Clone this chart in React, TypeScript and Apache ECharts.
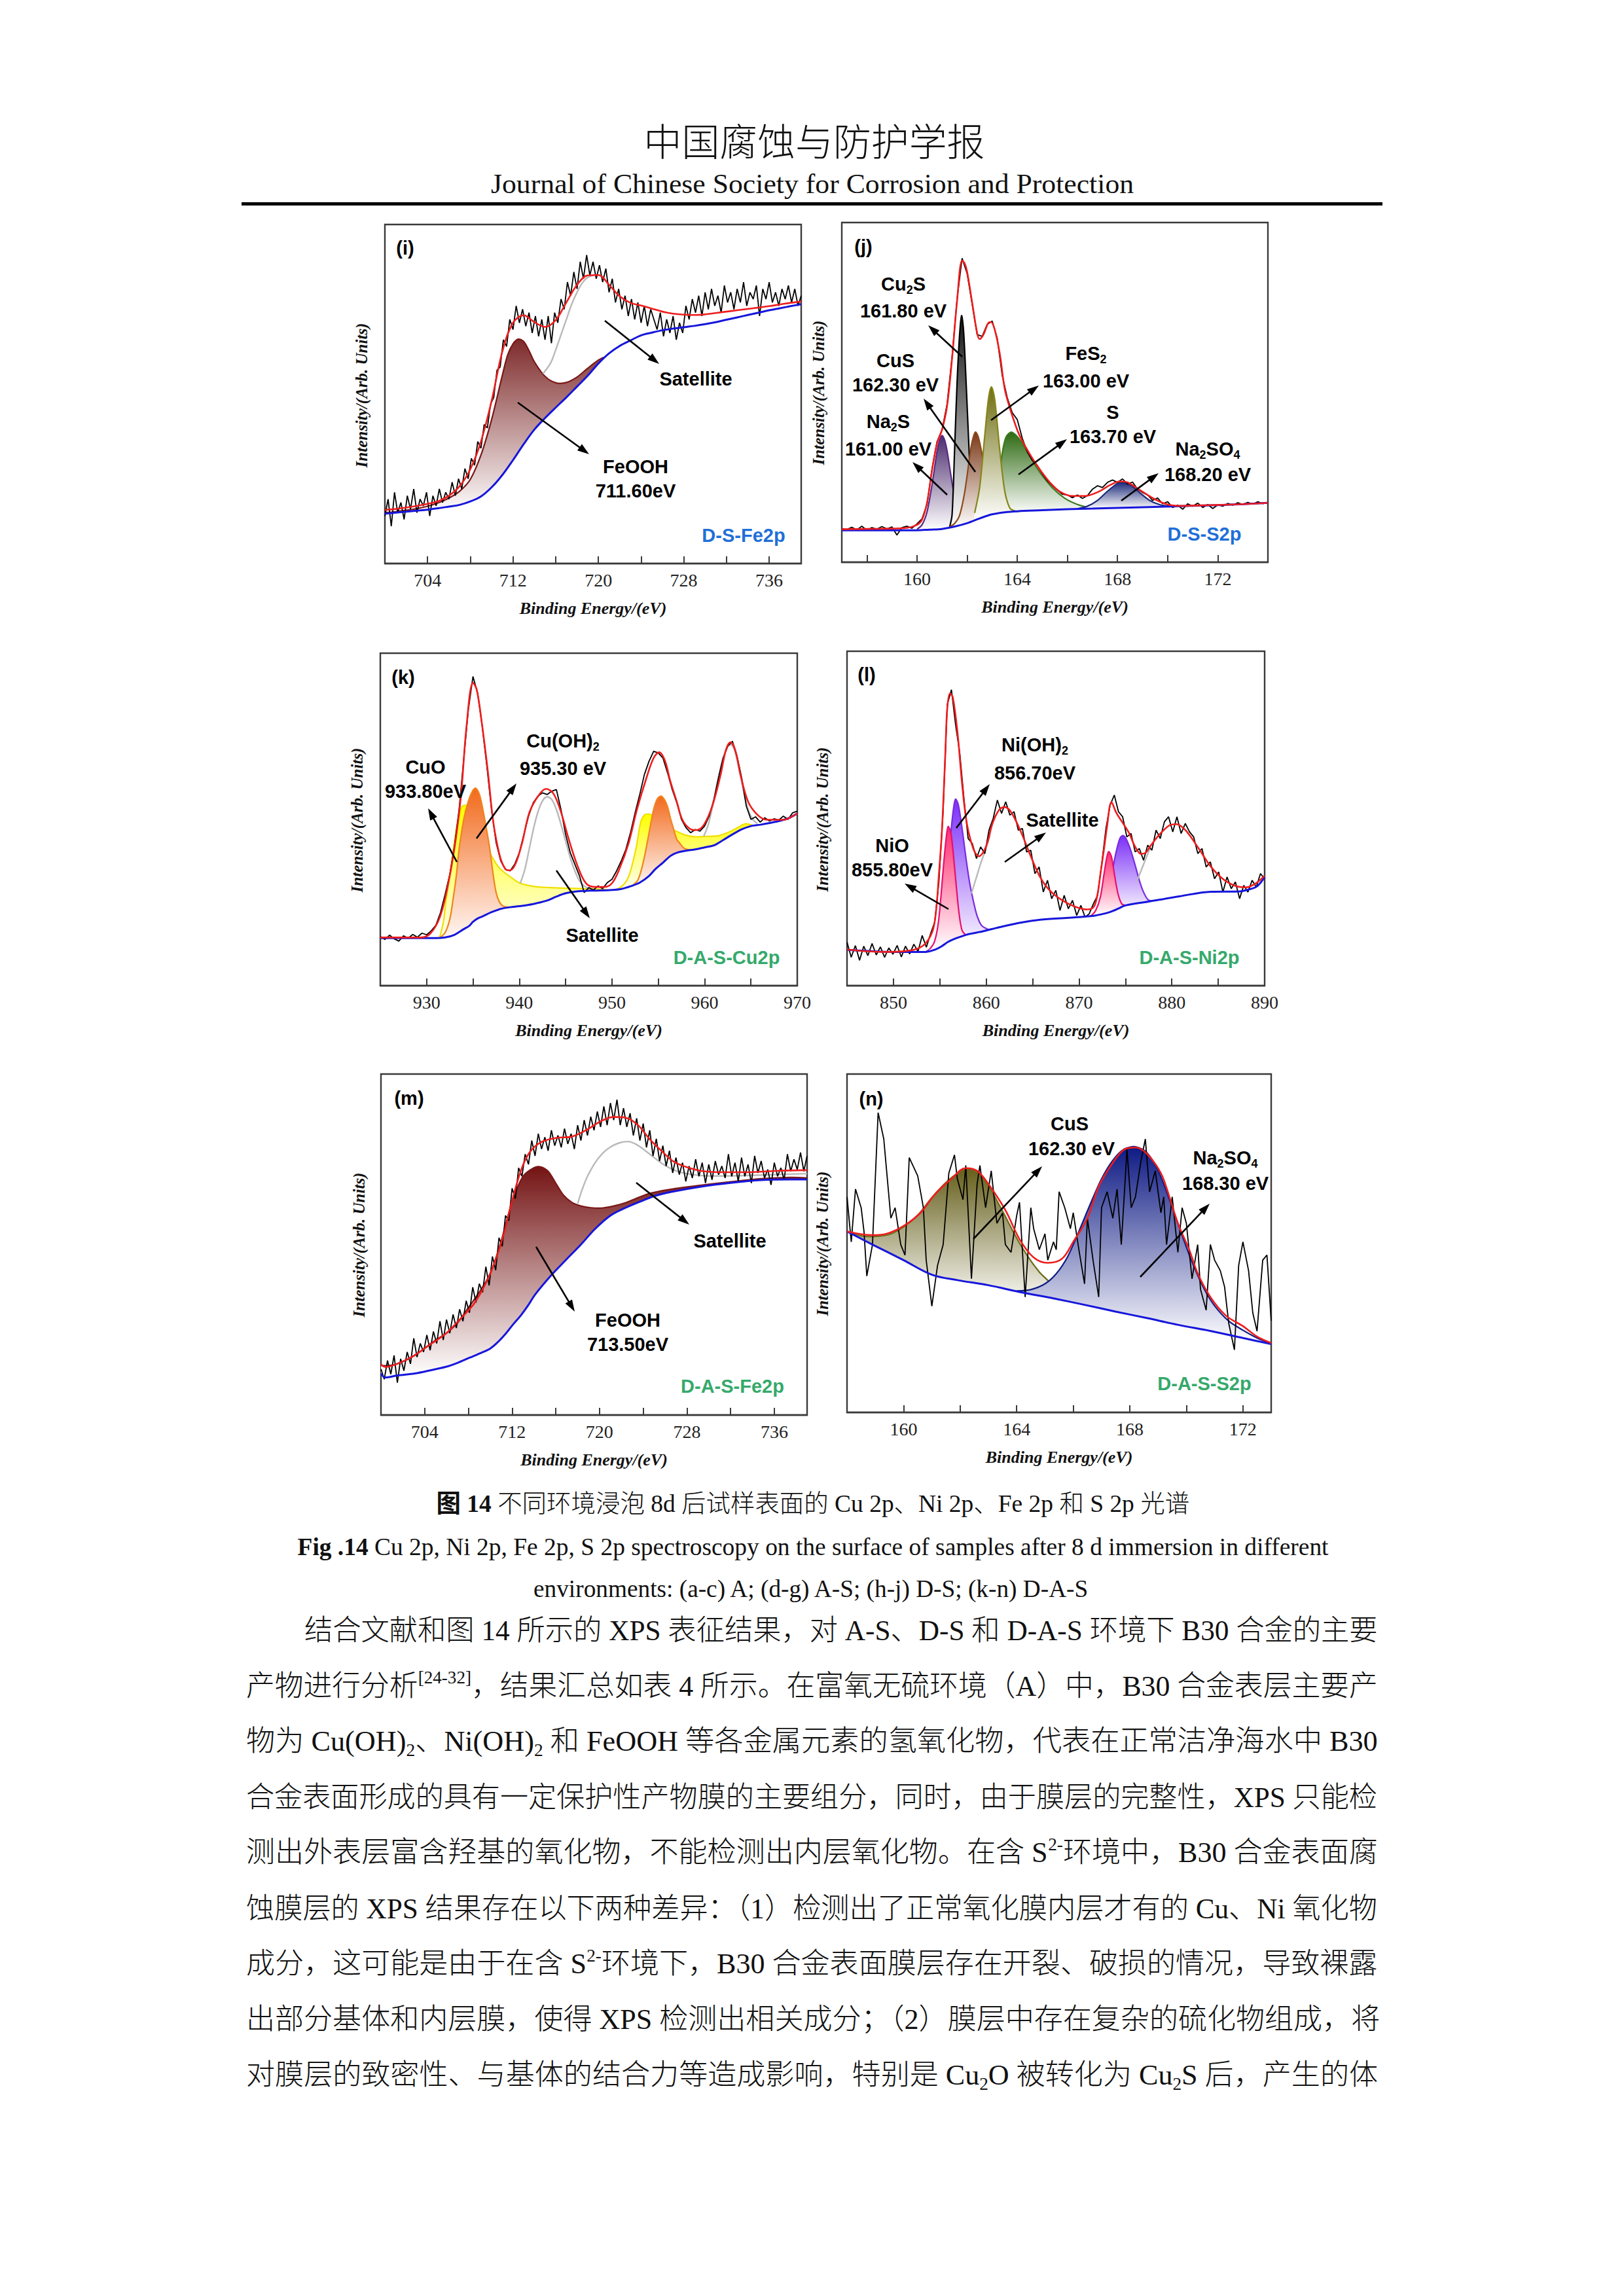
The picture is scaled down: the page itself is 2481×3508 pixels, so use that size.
import React, { useEffect, useRef } from 'react';
import * as echarts from 'echarts';

type Pt = [number, number];
type Band = [number, number, number]; // x, component top, background under it
type Seg = { t: string; s?: 'sub' | 'sup'; b?: boolean };

/* =========================== DATA =========================== */

/* ---- (i) D-S-Fe2p ---- */
const iTicks = [704, 708, 712, 716, 720, 724, 728, 732, 736];
const iLabels = [704, 712, 720, 728, 736];
const iRawStart = 700;
const iRawStep = 0.3;
const iRaw = [
  14, 19, 11, 21, 15, 18, 13, 20, 16, 22,
  15, 19, 17, 21, 14, 20, 17, 22, 18, 21,
  19, 24, 20, 25, 22, 28, 25, 31, 29, 36,
  34, 41, 40, 47, 49, 57, 58, 66, 64, 72,
  69, 76, 71, 75, 70, 74, 68, 73, 67, 72,
  66, 73, 65, 74, 71, 78, 75, 83, 79, 86,
  81, 89, 84, 91, 85, 89, 84, 88, 83, 87,
  80, 84, 77, 81, 75, 79, 73, 78, 72, 77,
  71, 76, 70, 75, 72, 69, 74, 67, 72, 68,
  73, 66, 71, 68, 76, 72, 78, 74, 79, 73,
  80, 75, 81, 76, 79, 74, 82, 77, 80, 75,
  81, 77, 83, 76, 80, 78, 82, 73, 81, 78,
  83, 77, 80, 76, 81, 78, 82, 77, 81, 76,
  79,
];
const iEnvelope: Pt[] = [
  [700, 15.8], [701, 16.1], [702, 16.5], [703, 17.0], [704, 17.6], [705, 18.4], [706, 20.0],
  [707, 22.8], [708, 27.8], [709, 36.0], [710, 48.0], [711, 62.5], [712, 71.0], [713, 73.2],
  [714, 71.2], [715, 69.8], [716, 71.8], [717, 77.0], [718, 82.2], [719, 85.0], [720, 85.1],
  [721, 82.2], [722, 78.8], [723, 76.9], [724, 76.1], [725, 75.2], [726, 74.3], [727, 73.7],
  [728, 73.4], [729, 73.3], [730, 73.5], [731, 73.9], [732, 74.3], [733, 74.7], [734, 75.1],
  [735, 75.5], [736, 75.9], [737, 76.4], [738, 76.9], [739, 77.3],
];
const iBackground: Pt[] = [
  [700, 14.7], [701, 15.0], [702, 15.3], [703, 15.6], [704, 15.9], [705, 16.3], [706, 16.8],
  [707, 17.3], [708, 18.3], [709, 19.8], [710, 22.5], [711, 26.1], [712, 30.5], [713, 35.2],
  [714, 39.5], [715, 42.9], [716, 46.0], [717, 49.0], [718, 52.2], [719, 55.4], [720, 59.0],
  [721, 62.0], [722, 64.2], [723, 65.8], [724, 67.3], [725, 68.1], [726, 68.8], [727, 69.3],
  [728, 69.7], [729, 70.1], [730, 70.6], [731, 71.2], [732, 71.9], [733, 72.6], [734, 73.3],
  [735, 74.0], [736, 74.7], [737, 75.3], [738, 75.9], [739, 76.5],
];
const iFeOOH: Band[] = [
  [700, 15.0, 14.7], [701, 15.3, 15.0], [702, 15.7, 15.3], [703, 16.2, 15.6], [704, 16.9, 15.9],
  [705, 17.9, 16.3], [706, 19.3, 16.8], [707, 21.3, 17.3], [708, 24.8, 18.3], [709, 32.0, 19.8],
  [710, 42.5, 22.5], [711, 55.5, 26.1], [711.5, 61.5, 28.3], [712, 64.8, 30.5], [712.5, 66.2, 32.8],
  [713, 65.5, 35.2], [713.5, 62.8, 37.4], [714, 59.5, 39.5], [715, 55.2, 42.9], [716, 53.3, 46.0],
  [717, 53.4, 49.0], [718, 55.0, 52.2], [719, 57.6, 55.4], [720, 60.0, 59.0], [720.5, 60.8, 60.5],
];
const iSatellite: Pt[] = [
  [714.8, 56.0], [715.5, 59.0], [716, 63.0], [716.5, 67.5], [717, 72.0], [717.5, 76.5],
  [718, 80.0], [718.5, 82.8], [719, 84.4], [719.5, 85.0],
];

/* ---- (j) D-S-S2p ---- */
const jTicks = [158, 160, 162, 164, 166, 168, 170, 172];
const jLabels = [160, 164, 168, 172];
const jRawStart = 157;
const jRawStep = 0.2;
const jRaw = [
  9.9, 9.6, 10.3, 9.5, 10.6, 9.4, 10.2, 9.7, 10.5, 9.8,
  10.4, 8.0, 10.2, 10.6, 10.0, 11.3, 12.8, 17.0, 27.5, 35.5,
  39.0, 46.5, 60.5, 77.5, 89.5, 85.0, 76.0, 67.0, 66.5, 70.0,
  71.0, 66.0, 55.0, 48.5, 44.0, 42.0, 36.5, 32.5, 30.0, 28.5,
  26.0, 24.0, 22.5, 21.2, 20.0, 19.8, 19.0, 19.8, 18.8, 19.6,
  21.5, 22.5, 22.0, 23.5, 24.2, 23.5, 24.5, 23.0, 23.6, 21.5,
  20.5, 19.8, 18.2, 18.9, 17.2, 17.8, 16.1, 16.8, 15.6, 17.2,
  16.5, 17.4, 16.1, 17.0, 15.8, 16.9, 16.5, 17.3, 16.8, 17.5,
  17.0, 17.6, 17.1, 17.8, 17.2, 17.6,
];
const jEnvelope: Pt[] = [
  [157, 9.7], [158, 9.8], [159, 9.9], [159.6, 10.1], [160, 11.0], [160.2, 12.5], [160.4, 17.5],
  [160.6, 27], [160.8, 35], [161.0, 39], [161.2, 46], [161.4, 60], [161.6, 77], [161.8, 88.8],
  [161.9, 88.0], [162.0, 85.5], [162.2, 76.5], [162.4, 67.5], [162.5, 65.7], [162.65, 67.0],
  [162.85, 70.5], [162.95, 70.7], [163.1, 68.5], [163.3, 61.5], [163.5, 51.0], [163.7, 45.5],
  [163.9, 41.0], [164.1, 37.2], [164.5, 31.8], [164.9, 27.3], [165.3, 23.5], [165.7, 20.8],
  [166.2, 19.5], [166.7, 19.5], [167.2, 20.6], [167.7, 22.7], [168.1, 23.8], [168.4, 23.5],
  [168.9, 21.2], [169.5, 18.5], [170.0, 17.0], [170.5, 16.6], [171.7, 16.8], [173.0, 17.1], [174.0, 17.5],
];
const jBackground: Pt[] = [
  [157, 9.4], [158, 9.4], [159, 9.4], [160, 9.4], [160.5, 9.6], [161, 9.8], [161.5, 10.5],
  [162, 11.5], [162.5, 12.9], [163, 14.1], [163.5, 14.7], [164, 15.0], [165, 15.3], [166, 15.6],
  [167, 15.8], [168, 16.0], [169, 16.2], [170, 16.4], [171, 16.6], [172, 16.8], [173, 17.1], [174, 17.5],
];
const jNa2S: Band[] = [
  [160.0, 9.7, 9.4], [160.2, 11.0, 9.45], [160.4, 14.8, 9.5], [160.6, 22.8, 9.6], [160.8, 32.6, 9.7],
  [160.9, 35.8, 9.75], [161.0, 37.3, 9.8], [161.1, 36.0, 9.9], [161.2, 32.8, 10.0], [161.4, 23.4, 10.3],
  [161.6, 15.7, 10.7], [161.8, 12.3, 11.1], [162.0, 11.7, 11.5],
];
const jCu2S: Band[] = [
  [161.3, 10.3, 10.1], [161.4, 14.0, 10.3], [161.5, 33.0, 10.5], [161.6, 53.0, 10.7], [161.7, 67.0, 10.9],
  [161.78, 72.6, 11.05], [161.86, 68.0, 11.2], [161.96, 53.0, 11.4], [162.06, 36.0, 11.7],
  [162.16, 21.0, 12.0], [162.26, 14.0, 12.3], [162.36, 12.6, 12.5],
];
const jCuS: Band[] = [
  [161.3, 10.4, 10.1], [161.5, 11.4, 10.5], [161.7, 13.8, 10.9], [161.9, 20.5, 11.3], [162.1, 31.0, 11.8],
  [162.2, 35.5, 12.1], [162.33, 38.3, 12.5], [162.45, 36.8, 12.75], [162.6, 31.5, 13.1], [162.75, 24.5, 13.5],
  [162.9, 18.5, 13.9], [163.1, 15.2, 14.2], [163.3, 14.6, 14.5],
];
const jFeS2: Band[] = [
  [162.3, 14.5, 12.4], [162.5, 22.0, 12.9], [162.7, 37.0, 13.4], [162.85, 48.0, 13.75], [162.97, 51.6, 14.05],
  [163.1, 48.0, 14.2], [163.3, 33.2, 14.5], [163.5, 21.0, 14.7], [163.7, 16.0, 14.8], [163.9, 15.1, 14.9],
  [164.1, 15.0, 15.0],
];
const jS: Band[] = [
  [163.0, 15.0, 14.1], [163.2, 21.0, 14.35], [163.4, 32.0, 14.6], [163.55, 36.8, 14.7], [163.76, 38.3, 14.8],
  [164.0, 37.0, 15.0], [164.2, 35.0, 15.05], [164.5, 31.2, 15.15], [164.9, 26.5, 15.3], [165.4, 21.9, 15.4],
  [165.9, 18.8, 15.55], [166.4, 17.0, 15.7], [166.9, 16.0, 15.8],
];
const jNa2SO4: Band[] = [
  [166.4, 15.75, 15.7], [166.8, 16.5, 15.75], [167.2, 18.2, 15.85], [167.6, 20.9, 15.95], [168.0, 23.2, 16.0],
  [168.2, 23.5, 16.05], [168.5, 22.8, 16.1], [168.9, 20.4, 16.2], [169.3, 18.1, 16.25], [169.7, 16.9, 16.35],
  [170.1, 16.45, 16.4],
];

/* ---- (k) D-A-S-Cu2p ---- */
const kTicks = [930, 935, 940, 945, 950, 955, 960, 965];
const kLabels = [930, 940, 950, 960, 970];
const kRawStart = 925;
const kRawStep = 0.5;
const kRaw = [
  14.8, 13.9, 15.2, 14.1, 13.4, 15.0, 14.3, 15.4, 14.6, 15.8,
  15.3, 16.5, 18.2, 22.0, 27.5, 33.5, 42.0, 53.0, 68.0, 83.0,
  93.0, 88.0, 78.0, 66.0, 53.0, 43.0, 37.5, 35.0, 34.5, 36.5,
  40.0, 45.5, 51.0, 55.0, 57.0, 58.0, 57.5, 58.5, 59.0, 53.0,
  45.5, 40.0, 36.5, 33.0, 28.0, 29.5, 28.8, 30.0, 29.2, 31.0,
  32.0, 34.5, 37.5, 41.0, 46.0, 52.0, 57.5, 63.5, 67.5, 70.5,
  70.0, 68.5, 64.0, 59.0, 55.0, 50.0, 47.5, 46.0, 47.0, 46.5,
  48.0, 51.0, 56.0, 62.5, 68.5, 72.0, 73.5, 69.0, 62.5, 54.0,
  50.0, 50.8, 49.2, 50.5, 49.5, 50.2, 49.8, 51.0, 50.0, 52.0,
  52.5,
];
const kEnvelope: Pt[] = [
  [925, 14.5], [929.4, 14.5], [930.4, 15.7], [931.4, 20.4], [932.2, 28.9], [933.0, 41.3], [933.7, 56.9],
  [934.3, 77.9], [935.0, 91.1], [935.4, 89.1], [935.9, 80.2], [936.6, 64.6], [937.2, 49.1], [937.9, 39.0],
  [938.5, 35.1], [939.0, 34.7], [939.6, 36.7], [940.3, 42.9], [941.1, 52.2], [942.1, 57.3], [942.9, 59.2],
  [943.7, 57.7], [944.5, 52.2], [945.3, 44.4], [946.3, 35.9], [947.2, 30.8], [948.2, 29.7], [949.2, 29.7],
  [950.0, 30.8], [950.8, 35.1], [951.8, 42.9], [952.7, 53.0], [953.7, 62.3], [954.5, 68.5], [955.1, 70.2],
  [955.7, 67.8], [956.3, 61.5], [957.0, 55.3], [957.6, 49.9], [958.4, 47.2], [959.1, 46.8], [959.9, 48.3],
  [960.8, 53.8], [961.7, 63.1], [962.3, 70.9], [962.8, 73.2], [963.3, 70.9], [963.9, 63.1], [964.7, 55.3],
  [965.7, 51.4], [966.7, 49.9], [968.6, 49.9], [969.3, 50.7], [970, 51.8],
];
const kBackground: Pt[] = [
  [925, 14.3], [931, 14.3], [932, 14.5], [933, 15.3], [934, 17.0], [934.6, 18.0], [935, 19.2],
  [935.5, 20.2], [936, 20.8], [937, 22.1], [938, 23.1], [939, 23.6], [940, 23.9], [941, 24.3],
  [942, 24.9], [943, 25.6], [944, 26.8], [945, 27.8], [946, 28.3], [947, 28.5], [948, 28.6],
  [950, 28.8], [951, 29.1], [952, 29.9], [953, 31.0], [954, 33.0], [954.7, 35.1], [955.5, 37.0],
  [956.3, 39.0], [957, 40.0], [958, 40.6], [959, 41.0], [960, 41.6], [961, 42.2], [962, 43.8],
  [963, 45.5], [964, 47.0], [965, 48.0], [966, 48.4], [967, 48.9], [968, 49.5], [969, 50.3], [970, 51.8],
];
const kCuO1: Band[] = [
  [931.4, 14.5, 14.4], [931.8, 19.0, 14.45], [932.1, 25.8, 14.6], [932.5, 33.0, 14.9], [932.9, 41.3, 15.2],
  [933.3, 48.5, 15.8], [933.8, 53.8, 16.6], [934.3, 54.2, 17.5], [935.0, 52.0, 19.2], [935.5, 48.5, 20.2],
  [936.0, 45.0, 20.8], [936.4, 41.7, 21.3], [937.0, 39.0, 22.1], [937.5, 36.7, 22.6], [938.0, 35.0, 23.1],
  [938.8, 33.2, 23.5], [940.1, 30.8, 23.9], [941.7, 29.8, 24.7], [943.3, 29.5, 26.0], [945.0, 29.3, 27.8],
  [946.6, 29.2, 28.4], [948.2, 29.1, 28.6], [949.5, 28.8, 28.7],
];
const kCuOH1: Band[] = [
  [931.5, 14.6, 14.4], [932.0, 16.0, 14.5], [932.5, 20.0, 14.9], [932.8, 25.0, 15.1], [933.2, 33.0, 15.6],
  [933.5, 41.0, 16.1], [934.0, 50.0, 17.0], [934.5, 55.5, 17.8], [935.0, 58.8, 19.2], [935.3, 59.4, 19.8],
  [935.7, 57.5, 20.4], [936.0, 54.0, 20.8], [936.4, 48.0, 21.3], [936.8, 41.5, 21.8], [937.2, 33.0, 22.3],
  [937.5, 28.0, 22.6], [937.8, 25.5, 22.9], [938.2, 24.0, 23.2], [938.8, 23.6, 23.5],
];
const kCuO2: Band[] = [
  [950.5, 28.9, 28.9], [951.3, 30.5, 29.3], [951.9, 33.6, 29.8], [952.6, 41.3, 30.5], [953.1, 49.1, 31.2],
  [953.5, 51.3, 32.0], [954.0, 51.6, 33.0], [954.5, 51.0, 34.5], [955.0, 50.0, 35.8], [955.5, 48.8, 37.0],
  [956.0, 47.8, 38.3], [956.5, 47.0, 39.3], [957.0, 46.4, 40.0], [957.8, 45.4, 40.5], [958.9, 44.8, 41.0],
  [960.2, 44.9, 41.7], [961.5, 45.1, 42.8], [962.8, 46.4, 45.2], [963.6, 47.6, 46.4], [964.4, 48.7, 47.4],
  [965.2, 48.2, 48.1],
];
const kCuOH2: Band[] = [
  [952.3, 30.3, 30.2], [952.8, 31.8, 30.8], [953.2, 35.1, 31.4], [953.6, 40.0, 32.2], [953.9, 44.4, 32.8],
  [954.5, 53.0, 34.5], [954.9, 56.2, 35.6], [955.3, 57.0, 36.5], [955.7, 55.8, 37.5], [956.0, 53.8, 38.3],
  [956.3, 50.5, 39.0], [956.6, 47.6, 39.5], [957.0, 44.0, 40.0], [957.3, 42.9, 40.2], [957.8, 41.3, 40.5],
  [958.3, 40.9, 40.7], [958.8, 40.9, 40.9],
];
const kSatellite1: Pt[] = [
  [940.1, 30.8], [940.6, 35.0], [941.1, 41.5], [941.6, 48.0], [942.1, 53.0], [942.6, 56.0], [943.0, 56.8],
  [943.5, 56.0], [944.0, 53.0], [944.5, 48.5], [945.0, 43.5], [945.5, 38.5], [946.0, 34.5], [946.5, 31.5],
  [947.0, 30.0], [947.5, 29.3],
];
const kSatellite2: Pt[] = [
  [959.9, 44.9], [960.4, 48.5], [960.9, 54.5], [961.4, 61.5], [961.9, 67.5], [962.4, 71.5], [962.8, 72.5],
  [963.2, 71.0], [963.7, 65.5], [964.2, 58.5], [964.7, 53.0], [965.2, 50.0], [965.7, 48.8],
];

/* ---- (l) D-A-S-Ni2p ---- */
const lTicks = [850, 855, 860, 865, 870, 875, 880, 885];
const lLabels = [850, 860, 870, 880, 890];
const lRawStart = 845;
const lRawStep = 0.45;
const lRaw = [
  13.0, 8.5, 12.0, 7.6, 11.8, 9.0, 12.6, 9.2, 11.6, 8.5,
  11.3, 9.4, 12.0, 8.6, 11.8, 9.5, 12.4, 10.2, 15.0, 11.5,
  15.5, 19.0, 31.0, 52.0, 84.0, 88.5, 78.0, 69.5, 56.0, 44.0,
  42.5, 38.0, 41.5, 39.5, 46.5, 50.0, 55.5, 51.5, 55.0, 51.0,
  52.0, 46.5, 47.0, 40.0, 40.5, 33.5, 35.5, 28.0, 31.5, 26.0,
  28.5, 22.5, 27.0, 23.0, 25.5, 21.0, 24.0, 20.5, 21.5, 24.5,
  27.0, 36.5, 47.0, 54.0, 57.0, 52.0, 50.5, 44.5, 45.5, 40.0,
  41.0, 37.5, 42.0, 40.5, 46.5, 44.0, 49.0, 50.5, 46.0, 50.5,
  45.5, 48.5, 46.0, 44.5, 39.5, 41.0, 35.5, 37.0, 32.0, 34.0,
  28.0, 32.5, 29.0, 31.0, 26.0, 30.0, 28.0, 31.5, 29.5, 33.5,
  32.0,
];
const lEnvelope: Pt[] = [
  [845, 10.8], [848.7, 10.1], [851.5, 10.4], [853.2, 12.0], [854.2, 16.2], [854.6, 22.5], [854.9, 33.3],
  [855.2, 45.0], [855.4, 56.5], [855.6, 70.0], [855.8, 82.8], [856.1, 87.4], [856.4, 86.2], [856.9, 75.8],
  [857.4, 60.3], [857.9, 48.7], [858.6, 41.0], [859.2, 38.7], [860.0, 41.8], [860.7, 48.7], [861.4, 52.6],
  [862.0, 53.4], [862.7, 51.8], [863.8, 45.6], [864.8, 38.7], [865.8, 32.5], [866.8, 28.6], [868.2, 25.5],
  [869.6, 23.6], [870.9, 22.8], [871.6, 23.6], [872.0, 27.5], [872.3, 33.3], [872.7, 41.0], [873.0, 47.2],
  [873.5, 54.9], [874.0, 51.8], [874.7, 48.7], [875.4, 45.6], [876.0, 41.8], [876.7, 39.4], [877.2, 39.8],
  [877.7, 41.8], [878.8, 45.6], [879.8, 48.0], [880.5, 48.3], [881.5, 46.4], [882.9, 41.0], [884.2, 35.6],
  [885.6, 31.7], [886.9, 29.8], [888.0, 29.4], [889.0, 30.5], [890, 32.9],
];
const lBackground: Pt[] = [
  [845, 10.7], [847, 10.4], [850.1, 10.1], [853.5, 10.1], [854.5, 10.8], [855.2, 11.8], [855.9, 13.1],
  [856.6, 14.0], [857.3, 14.7], [858.1, 15.4], [859.0, 15.9], [860, 16.5], [861.0, 17.2], [862.4, 18.1],
  [863.8, 18.9], [865.8, 19.7], [868.9, 20.3], [871.6, 20.9], [872.5, 21.4], [873.3, 22.0], [874.2, 23.0],
  [875.0, 24.0], [877.4, 25.1], [880.8, 26.7], [884.2, 28.1], [887.3, 28.2], [888.2, 28.7], [889.0, 29.4],
  [889.5, 30.6], [890, 32.5],
];
const lNiO1: Band[] = [
  [853.9, 10.9, 10.4], [854.4, 13.0, 10.7], [854.8, 18.0, 11.2], [855.1, 26.0, 11.6], [855.4, 36.0, 12.1],
  [855.7, 44.5, 12.6], [855.9, 47.6, 13.1], [856.2, 45.5, 13.4], [856.5, 38.0, 13.8], [856.8, 29.0, 14.2],
  [857.1, 21.0, 14.5], [857.4, 16.5, 14.8], [857.8, 15.1, 15.1],
];
const lNiOH1: Band[] = [
  [853.5, 10.2, 10.1], [854.2, 11.5, 10.6], [854.8, 14.5, 11.2], [855.3, 21.0, 12.0], [855.8, 33.0, 12.9],
  [856.2, 46.0, 13.4], [856.5, 53.5, 13.8], [856.7, 55.8, 14.1], [857.0, 54.0, 14.5], [857.4, 47.0, 14.8],
  [857.8, 38.5, 15.1], [858.2, 31.0, 15.4], [858.6, 25.5, 15.7], [859.0, 21.0, 15.9], [859.5, 18.0, 16.2],
  [860.3, 16.7, 16.7],
];
const lNiO2: Band[] = [
  [871.3, 20.9, 20.8], [871.8, 22.5, 21.1], [872.3, 26.5, 21.3], [872.7, 33.5, 21.6], [873.0, 38.5, 21.8],
  [873.2, 40.1, 21.9], [873.5, 38.5, 22.2], [873.8, 33.5, 22.5], [874.2, 27.5, 23.0], [874.6, 24.5, 23.5],
  [875.0, 24.0, 24.0],
];
const lNiOH2: Band[] = [
  [871.8, 21.3, 21.1], [872.5, 23.0, 21.4], [873.0, 26.0, 21.8], [873.5, 33.0, 22.2], [874.0, 40.0, 22.8],
  [874.4, 44.0, 23.3], [874.7, 44.9, 23.6], [875.0, 44.3, 24.0], [875.5, 41.0, 24.2], [876.0, 36.5, 24.4],
  [876.5, 31.5, 24.6], [876.9, 28.3, 24.8], [877.4, 25.8, 25.1], [877.9, 25.3, 25.3],
];
const lSatellite1: Pt[] = [[858.4, 27.5], [858.9, 32.0], [859.4, 36.5], [859.9, 40.5], [860.4, 45.0]];
const lSatellite2: Pt[] = [[876.2, 31.0], [876.7, 34.5], [877.2, 38.0], [877.7, 41.5]];

/* ---- (m) D-A-S-Fe2p ---- */
const mTicks = [704, 708, 712, 716, 720, 724, 728, 732, 736];
const mLabels = [704, 712, 720, 728, 736];
const mRawStart = 700;
const mRawStep = 0.3;
const mRaw = [
  13.5, 10.5, 16, 12, 17.5, 9.5, 16.5, 13, 18.5, 15,
  22.5, 17, 21, 18.5, 23.5, 19, 24.5, 21, 27.5, 22,
  28, 24, 29.5, 25.5, 31, 27.5, 33.5, 30, 37.5, 33,
  38.5, 36, 43.5, 38, 46.5, 42.5, 52, 49.5, 58.5, 57,
  66.5, 63.5, 72.5, 70, 76.5, 73.5, 80.5, 76, 82.5, 78,
  81.5, 77.5, 83.5, 79, 82, 78.5, 84, 79.5, 82.5, 78,
  85, 80.5, 86.5, 82, 87.5, 83.5, 89, 84.5, 90.5, 85,
  91.5, 86.5, 92.5, 85, 90, 84.5, 88.5, 82, 87, 80.5,
  85.5, 78.5, 83.5, 76, 81, 74.5, 79, 73, 77.5, 71,
  75.5, 70.5, 74, 68.5, 73, 69.5, 75, 70, 74, 68,
  73.5, 69, 74.5, 70.5, 73, 69.5, 76.5, 70, 74, 68.5,
  75.5, 70, 73.5, 68, 76, 71, 74.5, 69.5, 72, 67.5,
  74, 70, 72.5, 69, 76.5, 71.5, 75, 72, 77, 71.5,
  76,
];
const mEnvelope: Pt[] = [
  [700, 14.9], [700.4, 14.1], [701.7, 15.3], [703.1, 17.6], [704.5, 20.7], [705.9, 23.8], [707.2, 28.0],
  [708.6, 33.0], [710.0, 41.5], [711.1, 51.5], [711.9, 61.6], [712.8, 71.6], [713.6, 77.0], [714.7, 80.1],
  [716.1, 81.3], [717.4, 81.6], [718.8, 83.6], [720.2, 86.3], [721.3, 87.4], [722.4, 87.2], [723.5, 85.1],
  [724.6, 80.9], [725.7, 77.4], [726.8, 74.3], [727.9, 72.8], [729.3, 71.6], [730.9, 71.2], [733.4, 71.2],
  [736.1, 71.6], [739, 71.8],
];
const mBackground: Pt[] = [
  [700, 12.2], [700.4, 11.0], [701.5, 11.6], [703.1, 12.2], [704.5, 13.1], [705.9, 14.1], [707.0, 15.3],
  [708.1, 16.8], [709.0, 18.0], [710.0, 19.5], [710.7, 21.4], [711.4, 23.8], [712.1, 26.6], [712.8, 29.2],
  [713.5, 32.3], [714.1, 35.3], [715.5, 40.7], [716.9, 45.4], [718.3, 50.0], [719.6, 54.6], [721.0, 58.5],
  [722.4, 60.8], [723.8, 62.7], [725.1, 64.3], [726.5, 65.4], [729.3, 67.0], [732.0, 68.1], [734.8, 68.9],
  [737.5, 69.1], [739, 69.1],
];
const mFeOOH: Band[] = [
  [700.0, 14.5, 12.2], [701.0, 14.6, 11.4], [702.0, 15.7, 11.8], [703.0, 17.3, 12.2], [704.0, 19.6, 12.8],
  [705.0, 22.0, 13.5], [706.0, 24.0, 14.2], [707.0, 27.0, 15.3], [708.0, 31.5, 16.7], [709.0, 36.0, 18.0],
  [710.0, 41.5, 19.5], [711.0, 51.0, 22.7], [712.0, 62.5, 26.2], [713.0, 70.0, 30.1], [714.0, 72.5, 34.8],
  [714.6, 72.8, 37.0], [715.3, 71.5, 39.9], [716.0, 68.0, 42.4], [716.7, 64.5, 44.7], [717.5, 62.3, 47.1],
  [718.3, 61.3, 50.0], [719.2, 60.8, 53.2], [720.2, 60.7, 56.3], [721.3, 61.3, 59.0], [722.4, 62.3, 60.8],
  [723.5, 63.7, 62.3], [724.6, 65.0, 63.7], [726.5, 66.2, 65.4], [729.3, 67.4, 67.0], [732.0, 68.4, 68.1],
  [734.8, 69.3, 68.9], [737.5, 69.7, 69.1], [739.0, 69.5, 69.1],
];
const mSatellite: Pt[] = [
  [718.0, 62.0], [718.4, 66.0], [718.9, 70.0], [719.6, 74.0], [720.3, 76.8], [721.0, 78.6], [721.8, 79.8],
  [722.6, 80.2], [723.4, 79.3], [724.2, 77.5], [725.0, 75.5], [726.0, 73.2], [727.0, 71.6], [728.0, 70.8],
  [729.5, 70.2], [731.0, 70.1], [733.0, 70.2], [735.0, 70.4], [737.0, 70.6], [739.0, 70.8],
];

/* ---- (n) D-A-S-S2p ---- */
const nTicks = [160, 162, 164, 166, 168, 170, 172];
const nLabels = [160, 164, 168, 172];
const nRaw: Pt[] = [
  [158.0, 63.7], [158.15, 50.4], [158.3, 66.0], [158.5, 60.5], [158.6, 53.5], [158.7, 40.3], [158.9, 49.6],
  [159.1, 88.6], [159.3, 80.8], [159.55, 57.4], [159.7, 60.5], [159.9, 49.6], [160.05, 46.5], [160.2, 75.3],
  [160.5, 69.9], [160.7, 60.5], [160.8, 45.0], [161.0, 31.4], [161.2, 43.4], [161.4, 49.6], [161.6, 70.7],
  [161.8, 76.1], [161.9, 69.1], [162.1, 62.9], [162.2, 73.0], [162.4, 39.5], [162.6, 67.5], [162.7, 73.0],
  [162.9, 60.5], [163.1, 71.4], [163.3, 55.9], [163.5, 58.9], [163.6, 49.6], [163.8, 47.3], [164.0, 58.2],
  [164.1, 62.1], [164.3, 34.1], [164.5, 60.5], [164.6, 54.3], [164.8, 48.1], [165.0, 52.8], [165.1, 45.0],
  [165.3, 50.4], [165.4, 48.1], [165.5, 65.2], [165.7, 60.5], [165.9, 54.3], [166.0, 59.0], [166.2, 48.1],
  [166.4, 38.0], [166.5, 57.4], [166.7, 45.0], [166.9, 34.1], [167.0, 60.5], [167.2, 65.2], [167.4, 57.4],
  [167.55, 66.0], [167.7, 49.6], [167.9, 77.7], [168.05, 60.5], [168.2, 63.7], [168.4, 74.6], [168.55, 80.8],
  [168.7, 65.2], [168.9, 71.4], [169.1, 59.0], [169.2, 63.7], [169.3, 49.6], [169.5, 63.7], [169.7, 47.3],
  [169.85, 60.5], [170.0, 55.9], [170.2, 39.5], [170.4, 49.6], [170.5, 36.4], [170.7, 30.2], [170.85, 49.6],
  [171.0, 45.0], [171.2, 41.9], [171.35, 37.2], [171.5, 26.3], [171.7, 18.5], [171.85, 43.4], [172.0, 50.4],
  [172.2, 41.9], [172.35, 29.4], [172.5, 24.0], [172.7, 45.0], [172.85, 46.5], [173.0, 27.1],
];
const nEnvelope: Pt[] = [
  [158, 53.5], [158.9, 52.4], [159.4, 52.8], [160, 55.1], [160.6, 59.0], [161.1, 64.4], [161.7, 69.1],
  [162.2, 72.2], [162.6, 71.4], [163.0, 67.5], [163.6, 59.8], [164.1, 51.2], [164.6, 45.8], [165.1, 44.2],
  [165.6, 45.4], [166.0, 50.4], [166.5, 57.4], [166.9, 66.8], [167.4, 73.8], [167.8, 77.7], [168.2, 78.3],
  [168.6, 76.5], [169.1, 70.7], [169.4, 63.7], [169.7, 55.9], [170.1, 48.1], [170.4, 41.1], [170.85, 34.1],
  [171.4, 28.6], [172.0, 25.5], [172.5, 22.4], [173, 20.5],
];
const nBackground: Pt[] = [
  [158, 53.5], [158.9, 49.6], [160, 45.0], [161.0, 40.7], [161.9, 39.1], [163.0, 37.6], [164.1, 35.6],
  [165.3, 33.7], [166.4, 31.8], [167.5, 29.8], [168.6, 27.9], [169.7, 25.9], [170.9, 24.0], [172.0, 22.0],
  [173, 20.2],
];
const nCuS: Band[] = [
  [158.0, 53.5, 53.5], [158.5, 52.2, 51.3], [159.0, 52.0, 49.2], [159.5, 52.6, 47.0], [160.0, 54.8, 45.0],
  [160.5, 58.3, 43.0], [161.0, 63.5, 40.7], [161.5, 68.0, 39.8], [162.0, 71.2, 39.0], [162.3, 72.0, 38.6],
  [162.6, 71.0, 38.3], [163.0, 67.0, 37.6], [163.5, 59.5, 36.8], [164.0, 51.5, 35.8], [164.4, 46.0, 35.2],
  [164.8, 41.5, 34.4], [165.1, 39.0, 34.0], [165.3, 37.0, 33.7],
];
const nNa2SO4: Band[] = [
  [164.0, 35.9, 35.8], [164.5, 36.3, 35.0], [165.0, 38.0, 34.2], [165.4, 41.0, 33.5], [165.8, 46.0, 32.9],
  [166.2, 53.5, 32.2], [166.6, 61.5, 31.4], [167.0, 69.0, 30.7], [167.4, 74.5, 30.0], [167.8, 77.8, 29.3],
  [168.2, 78.5, 28.6], [168.6, 76.8, 27.9], [169.0, 71.5, 27.2], [169.4, 63.0, 26.5], [169.8, 53.5, 25.8],
  [170.2, 44.5, 25.1], [170.6, 37.0, 24.5], [171.0, 31.5, 23.8], [171.5, 27.0, 22.9], [172.0, 24.3, 22.0],
  [172.5, 22.0, 21.1], [173.0, 20.3, 20.2],
];

/* ======================= STYLE / LAYOUT ======================= */
const PAGE_W = 2481;
const PAGE_H = 3508;
const SERIF = '"Liberation Serif", "Times New Roman", Times, serif';
const SANS = '"Liberation Sans", Arial, Helvetica, sans-serif';
const MIX = '"Liberation Serif", "Times New Roman", "Noto Sans CJK SC", serif';
const CJKF = '"Noto Sans CJK SC", "Noto Sans CJK JP", sans-serif';
const AXC = '#3a3a3a';
const RED = '#ee1d1d';
const BLUE = '#1616dc';
const GREY = '#b9b9b9';
const TAG_BLUE = '#1f6fd8';
const TAG_GREEN = '#35a96b';

const rawFrom = (start: number, step: number, vals: number[]): Pt[] =>
  vals.map((v, i) => [Math.round((start + i * step) * 1000) / 1000, v]);

type Comp = { band: Band[]; fill: string; end: string; line: string };
type Panel = {
  box: [number, number, number, number];
  range: [number, number];
  ticks: number[];
  labels: number[];
  raw: Pt[];
  env: Pt[];
  bg: Pt[];
  comps: Comp[];
  greys: Pt[][];
};

const PANELS: Panel[] = [
  {
    box: [588, 343, 636, 518], range: [700, 739], ticks: iTicks, labels: iLabels,
    raw: rawFrom(iRawStart, iRawStep, iRaw), env: iEnvelope, bg: iBackground,
    comps: [{ band: iFeOOH, fill: '#7e2a2a', end: '#ffffff', line: '#7a1818' }],
    greys: [iSatellite],
  },
  {
    box: [1286, 340, 651, 519], range: [157, 174], ticks: jTicks, labels: jLabels,
    raw: rawFrom(jRawStart, jRawStep, jRaw), env: jEnvelope, bg: jBackground,
    comps: [
      { band: jNa2S, fill: '#4b2c6e', end: '#ffffff', line: '#5a2a82' },
      { band: jCu2S, fill: '#151515', end: '#ffffff', line: '#000000' },
      { band: jCuS, fill: '#7b3a1a', end: '#ffffff', line: '#8b4a1c' },
      { band: jS, fill: '#2e6a12', end: '#ffffff', line: '#3b7a1f' },
      { band: jFeS2, fill: '#6e6e10', end: '#ffffff', line: '#85851a' },
      { band: jNa2SO4, fill: '#1c2a7a', end: '#ffffff', line: '#1c2a7a' },
    ],
    greys: [],
  },
  {
    box: [581, 998, 637, 508], range: [925, 970], ticks: kTicks, labels: kLabels,
    raw: rawFrom(kRawStart, kRawStep, kRaw), env: kEnvelope, bg: kBackground,
    comps: [
      { band: kCuO1, fill: '#ffff00', end: '#fffff2', line: '#f0e000' },
      { band: kCuOH1, fill: '#f26a1c', end: '#fff6f2', line: '#f0841e' },
      { band: kCuO2, fill: '#ffff00', end: '#fffff2', line: '#f0e000' },
      { band: kCuOH2, fill: '#f26a1c', end: '#fff6f2', line: '#f0841e' },
    ],
    greys: [kSatellite1, kSatellite2],
  },
  {
    box: [1294, 995, 638, 511], range: [845, 890], ticks: lTicks, labels: lLabels,
    raw: rawFrom(lRawStart, lRawStep, lRaw), env: lEnvelope, bg: lBackground,
    comps: [
      { band: lNiOH1, fill: '#7b2ff7', end: '#ffffff', line: '#7a2be0' },
      { band: lNiO1, fill: '#ff2d6f', end: '#ffffff', line: '#e8106e' },
      { band: lNiOH2, fill: '#7b2ff7', end: '#ffffff', line: '#7a2be0' },
      { band: lNiO2, fill: '#ff2d6f', end: '#ffffff', line: '#e8106e' },
    ],
    greys: [lSatellite1, lSatellite2],
  },
  {
    box: [582, 1641, 651, 521], range: [700, 739], ticks: mTicks, labels: mLabels,
    raw: rawFrom(mRawStart, mRawStep, mRaw), env: mEnvelope, bg: mBackground,
    comps: [{ band: mFeOOH, fill: '#741414', end: '#ffffff', line: '#7a1818' }],
    greys: [mSatellite],
  },
  {
    box: [1294, 1641, 648, 517], range: [158, 173], ticks: nTicks, labels: nLabels,
    raw: nRaw, env: nEnvelope, bg: nBackground,
    comps: [
      { band: nCuS, fill: '#665f1c', end: '#f6f6f0', line: '#6b6b1a' },
      { band: nNa2SO4, fill: '#0e1a84', end: '#ffffff', line: '#101c84' },
    ],
    greys: [],
  },
];

type Label = { x: number; y: number; p: Seg[]; c?: string };
type Annot = { labels: Label[]; arrows: number[][]; ytitle: [number, number] };

const ANNOT: Annot[] = [
  {
    labels: [
      { x: 619, y: 379, p: [{ t: '(i)' }] },
      { x: 1063, y: 579, p: [{ t: 'Satellite' }] },
      { x: 971, y: 713, p: [{ t: 'FeOOH' }] },
      { x: 971, y: 750, p: [{ t: '711.60eV' }] },
      { x: 1136, y: 818, p: [{ t: 'D-S-Fe2p' }], c: TAG_BLUE },
    ],
    arrows: [[924, 490, 1007, 556], [791, 615, 900, 694]],
    ytitle: [552, 604],
  },
  {
    labels: [
      { x: 1319, y: 377, p: [{ t: '(j)' }] },
      { x: 1380, y: 434, p: [{ t: 'Cu' }, { t: '2', s: 'sub' }, { t: 'S' }] },
      { x: 1380, y: 475, p: [{ t: '161.80 eV' }] },
      { x: 1368, y: 551, p: [{ t: 'CuS' }] },
      { x: 1368, y: 588, p: [{ t: '162.30 eV' }] },
      { x: 1357, y: 644, p: [{ t: 'Na' }, { t: '2', s: 'sub' }, { t: 'S' }] },
      { x: 1357, y: 686, p: [{ t: '161.00 eV' }] },
      { x: 1659, y: 540, p: [{ t: 'FeS' }, { t: '2', s: 'sub' }] },
      { x: 1659, y: 582, p: [{ t: '163.00 eV' }] },
      { x: 1700, y: 630, p: [{ t: 'S' }] },
      { x: 1700, y: 667, p: [{ t: '163.70 eV' }] },
      { x: 1845, y: 686, p: [{ t: 'Na' }, { t: '2', s: 'sub' }, { t: 'SO' }, { t: '4', s: 'sub' }] },
      { x: 1845, y: 725, p: [{ t: '168.20 eV' }] },
      { x: 1840, y: 816, p: [{ t: 'D-S-S2p' }], c: TAG_BLUE },
    ],
    arrows: [[1470, 545, 1418, 497], [1490, 721, 1411, 609], [1447, 756, 1394, 706],
      [1514, 642, 1587, 589], [1556, 725, 1630, 671], [1713, 765, 1770, 723]],
    ytitle: [1250, 600],
  },
  {
    labels: [
      { x: 616, y: 1035, p: [{ t: '(k)' }] },
      { x: 650, y: 1172, p: [{ t: 'CuO' }] },
      { x: 650, y: 1209, p: [{ t: '933.80eV' }] },
      { x: 860, y: 1132, p: [{ t: 'Cu(OH)' }, { t: '2', s: 'sub' }] },
      { x: 860, y: 1174, p: [{ t: '935.30 eV' }] },
      { x: 920, y: 1429, p: [{ t: 'Satellite' }] },
      { x: 1110, y: 1463, p: [{ t: 'D-A-S-Cu2p' }], c: TAG_GREEN },
    ],
    arrows: [[698, 1317, 654, 1235], [728, 1281, 789, 1197], [850, 1330, 901, 1403]],
    ytitle: [545, 1253],
  },
  {
    labels: [
      { x: 1324, y: 1031, p: [{ t: '(l)' }] },
      { x: 1581, y: 1138, p: [{ t: 'Ni(OH)' }, { t: '2', s: 'sub' }] },
      { x: 1581, y: 1181, p: [{ t: '856.70eV' }] },
      { x: 1623, y: 1253, p: [{ t: 'Satellite' }] },
      { x: 1363, y: 1292, p: [{ t: 'NiO' }] },
      { x: 1363, y: 1329, p: [{ t: '855.80eV' }] },
      { x: 1817, y: 1463, p: [{ t: 'D-A-S-Ni2p' }], c: TAG_GREEN },
    ],
    arrows: [[1461, 1265, 1512, 1198], [1535, 1317, 1598, 1272], [1449, 1389, 1382, 1350]],
    ytitle: [1256, 1252],
  },
  {
    labels: [
      { x: 625, y: 1678, p: [{ t: '(m)' }] },
      { x: 1115, y: 1896, p: [{ t: 'Satellite' }] },
      { x: 959, y: 2017, p: [{ t: 'FeOOH' }] },
      { x: 959, y: 2054, p: [{ t: '713.50eV' }] },
      { x: 1119, y: 2118, p: [{ t: 'D-A-S-Fe2p' }], c: TAG_GREEN },
    ],
    arrows: [[972, 1807, 1053, 1871], [819, 1905, 878, 2004]],
    ytitle: [548, 1902],
  },
  {
    labels: [
      { x: 1331, y: 1679, p: [{ t: '(n)' }] },
      { x: 1634, y: 1717, p: [{ t: 'CuS' }] },
      { x: 1637, y: 1755, p: [{ t: '162.30 eV' }] },
      { x: 1872, y: 1769, p: [{ t: 'Na' }, { t: '2', s: 'sub' }, { t: 'SO' }, { t: '4', s: 'sub' }] },
      { x: 1872, y: 1808, p: [{ t: '168.30 eV' }] },
      { x: 1840, y: 2114, p: [{ t: 'D-A-S-S2p' }], c: TAG_GREEN },
    ],
    arrows: [[1487, 1893, 1592, 1782], [1742, 1951, 1848, 1839]],
    ytitle: [1256, 1900],
  },
];

/* page text (header, captions, body) */
const CAPTION_LINES: { y: number; cx: number; w: number; parts: Seg[] }[] = [
  { y: 2297, cx: 1242, w: 1151, parts: [{ t: '图 14', b: true }, { t: ' 不同环境浸泡 8d 后试样表面的 Cu 2p、Ni 2p、Fe 2p 和 S 2p 光谱' }] },
  { y: 2363, cx: 1242, w: 1575, parts: [{ t: 'Fig .14', b: true }, { t: ' Cu 2p, Ni 2p, Fe 2p, S 2p spectroscopy on the surface of samples after 8 d immersion in different' }] },
  { y: 2427, cx: 1241, w: 852, parts: [{ t: 'environments: (a-c) A; (d-g) A-S; (h-j) D-S; (k-n) D-A-S' }] },
];

const BODY_LINES: Seg[][] = [
  [{ t: '结合文献和图 14 所示的 XPS 表征结果，对 A-S、D-S 和 D-A-S 环境下 B30 合金的主要' }],
  [{ t: '产物进行分析' }, { t: '[24-32]', s: 'sup' }, { t: '，结果汇总如表 4 所示。在富氧无硫环境（A）中，B30 合金表层主要产' }],
  [{ t: '物为 Cu(OH)' }, { t: '2', s: 'sub' }, { t: '、Ni(OH)' }, { t: '2', s: 'sub' }, { t: ' 和 FeOOH 等各金属元素的氢氧化物，代表在正常洁净海水中 B30' }],
  [{ t: '合金表面形成的具有一定保护性产物膜的主要组分，同时，由于膜层的完整性，XPS 只能检' }],
  [{ t: '测出外表层富含羟基的氧化物，不能检测出内层氧化物。在含 S' }, { t: '2-', s: 'sup' }, { t: '环境中，B30 合金表面腐' }],
  [{ t: '蚀膜层的 XPS 结果存在以下两种差异：（1）检测出了正常氧化膜内层才有的 Cu、Ni 氧化物' }],
  [{ t: '成分，这可能是由于在含 S' }, { t: '2-', s: 'sup' }, { t: '环境下，B30 合金表面膜层存在开裂、破损的情况，导致裸露' }],
  [{ t: '出部分基体和内层膜，使得 XPS 检测出相关成分；（2）膜层中存在复杂的硫化物组成，将' }],
  [{ t: '对膜层的致密性、与基体的结合力等造成影响，特别是 Cu' }, { t: '2', s: 'sub' }, { t: 'O 被转化为 Cu' }, { t: '2', s: 'sub' }, { t: 'S 后，产生的体' }],
];
// small per-line width corrections (measurement vs. rendering of full-width punctuation)
const BODY_WIDTH_FIX = [0, 0, 0, 0, 0, 0, 0, 25, 0];

/* ========================= HELPERS ========================= */
let measureCtx: CanvasRenderingContext2D | null = null;
function textWidth(t: string, font: string): number {
  if (!measureCtx) measureCtx = document.createElement('canvas').getContext('2d');
  if (!measureCtx) return t.length * 20;
  measureCtx.font = font;
  return measureCtx.measureText(t).width;
}

function richLine(o: {
  x: number; y: number; align?: 'left' | 'center'; width?: number; size: number; family: string;
  weight?: string; italic?: boolean; color?: string; parts: Seg[];
}): any {
  let cx = 0;
  const style = o.italic ? 'italic' : 'normal';
  const items = o.parts.map((p) => {
    const size = p.s ? o.size * 0.62 : o.size;
    const weight = p.b ? 'bold' : (o.weight || 'normal');
    const w = textWidth(p.t, `${style} ${weight} ${size}px ${o.family}`);
    const it = { p, size, weight, x: cx };
    cx += w;
    return it;
  });
  const nat = cx || 1;
  const sc = o.width ? o.width / nat : 1;
  const gx = o.align === 'center' ? o.x - (nat * sc) / 2 : o.x;
  return {
    type: 'group', x: gx, y: o.y, scaleX: sc, z: 100,
    children: items.map((it) => ({
      type: 'text', x: it.x,
      y: it.p.s === 'sub' ? o.size * 0.3 : it.p.s === 'sup' ? -o.size * 0.3 : 0,
      z: 100,
      style: {
        text: it.p.t, fontSize: it.size, fontFamily: o.family, fontWeight: it.weight, fontStyle: style,
        fill: o.color || '#000', align: 'left', textAlign: 'left', verticalAlign: 'middle', textVerticalAlign: 'middle',
      },
    })),
  };
}

function arrowEls(a: number[]): any[] {
  const [x1, y1, x2, y2] = a;
  const dx = x2 - x1, dy = y2 - y1;
  const L = Math.hypot(dx, dy) || 1;
  const ux = dx / L, uy = dy / L;
  const hl = 18, hw = 12;
  const bx = x2 - ux * hl, by = y2 - uy * hl;
  return [
    { type: 'line', z: 100, shape: { x1, y1, x2: bx + ux * 3, y2: by + uy * 3 }, style: { stroke: '#000', lineWidth: 2.6 } },
    {
      type: 'polygon', z: 100,
      shape: { points: [[x2, y2], [bx - (uy * hw) / 2, by + (ux * hw) / 2], [bx + (uy * hw) / 2, by - (ux * hw) / 2]] },
      style: { fill: '#000' },
    },
  ];
}

function bandSeries(gi: number, c: Comp): any {
  return {
    type: 'custom', coordinateSystem: 'cartesian2d', xAxisIndex: gi, yAxisIndex: gi,
    silent: true, z: 2, clip: true, animation: false,
    data: [[c.band[0][0], c.band[0][1]]],
    renderItem: (_p: any, api: any) => {
      const top = c.band.map((d) => api.coord([d[0], d[1]]));
      const base = c.band.map((d) => api.coord([d[0], d[2]])).reverse();
      return {
        type: 'group',
        children: [
          {
            type: 'polygon', shape: { points: top.concat(base), smooth: 0.3 },
            style: {
              fill: { type: 'linear', x: 0, y: 0, x2: 0, y2: 1, colorStops: [{ offset: 0, color: c.fill }, { offset: 1, color: c.end }] },
              stroke: 'none',
            },
          },
          { type: 'polyline', shape: { points: top, smooth: 0.3 }, style: { stroke: c.line, lineWidth: 2.2, fill: 'none' } },
        ],
      };
    },
  };
}

function lineSeries(gi: number, data: Pt[], color: string, width: number, smooth: number | boolean, z: number): any {
  return {
    type: 'line', xAxisIndex: gi, yAxisIndex: gi, data, showSymbol: false, symbol: 'none',
    smooth, silent: true, z, clip: true, animation: false,
    lineStyle: { color, width },
  };
}

function buildOption(): any {
  const grid: any[] = [], xAxis: any[] = [], yAxis: any[] = [], series: any[] = [];
  PANELS.forEach((p, gi) => {
    grid.push({
      left: p.box[0], top: p.box[1], width: p.box[2], height: p.box[3],
      show: true, borderColor: AXC, borderWidth: 2.4, backgroundColor: 'transparent',
      containLabel: false, outerBoundsMode: 'none',
    });
    xAxis.push({
      gridIndex: gi, type: 'value', min: p.range[0], max: p.range[1],
      axisLine: { show: true, onZero: false, lineStyle: { color: AXC, width: 2.4 } },
      axisTick: { show: true, inside: true, length: 11, customValues: p.ticks, lineStyle: { color: AXC, width: 2 } },
      axisLabel: { show: true, customValues: p.labels, fontFamily: SERIF, fontSize: 28, color: '#222', margin: 11 },
      splitLine: { show: false },
      name: 'Binding Energy/(eV)', nameLocation: 'middle', nameGap: 55,
      nameTextStyle: { fontFamily: SERIF, fontStyle: 'italic', fontWeight: 'bold', fontSize: 26, color: '#111' },
    });
    yAxis.push({ gridIndex: gi, type: 'value', min: 0, max: 100, show: false });
    p.comps.forEach((c) => series.push(bandSeries(gi, c)));
    p.greys.forEach((g) => series.push(lineSeries(gi, g, GREY, 2.4, 0.35, 4)));
    series.push(lineSeries(gi, p.raw, '#000', 1.8, false, 5));
    series.push(lineSeries(gi, p.bg, BLUE, 3, 0.35, 6));
    series.push(lineSeries(gi, p.env, RED, 2.6, 0.35, 7));
  });

  const els: any[] = [];
  // header
  els.push(richLine({ x: 1244, y: 213, align: 'center', size: 58, family: CJKF, weight: '300', parts: [{ t: '中国腐蚀与防护学报' }], width: 521, color: '#111' }));
  els.push(richLine({ x: 1241, y: 281, align: 'center', size: 42, family: SERIF, parts: [{ t: 'Journal of Chinese Society for Corrosion and Protection' }], width: 982, color: '#111' }));
  els.push({ type: 'rect', z: 100, shape: { x: 369, y: 309, width: 1743, height: 5 }, style: { fill: '#000' } });

  // panel annotations
  ANNOT.forEach((a) => {
    a.labels.forEach((l) => {
      els.push(richLine({ x: l.x, y: l.y, align: 'center', size: 29, family: SANS, weight: 'bold', parts: l.p, color: l.c || '#000' }));
    });
    a.arrows.forEach((ar) => arrowEls(ar).forEach((e) => els.push(e)));
    els.push({
      type: 'text', x: a.ytitle[0], y: a.ytitle[1], rotation: Math.PI / 2, z: 100,
      style: {
        text: 'Intensity/(Arb. Units)', fontSize: 25, fontFamily: SERIF, fontStyle: 'italic', fontWeight: 'bold',
        fill: '#111', align: 'center', textAlign: 'center', verticalAlign: 'middle', textVerticalAlign: 'middle',
      },
    });
  });

  // captions
  CAPTION_LINES.forEach((c) => {
    els.push(richLine({ x: c.cx, y: c.y, align: 'center', size: 37.5, family: MIX, weight: '300', parts: c.parts, width: c.w, color: '#111' }));
  });

  // body paragraph
  BODY_LINES.forEach((parts, i) => {
    const left = i === 0 ? 465 : 376;
    els.push(richLine({ x: left, y: 2491 + 85 * i, align: 'left', size: 44, family: MIX, weight: '300', parts, width: 2105 - left + BODY_WIDTH_FIX[i], color: '#111' }));
  });

  return {
    animation: false,
    backgroundColor: '#ffffff',
    grid, xAxis, yAxis, series,
    graphic: { elements: els },
  };
}

export default function App() {
  const ref = useRef<HTMLDivElement>(null);
  useEffect(() => {
    if (!ref.current) return;
    const chart = echarts.init(ref.current, null, { renderer: 'svg', width: PAGE_W, height: PAGE_H });
    chart.setOption(buildOption());
    return () => chart.dispose();
  }, []);
  return (
    <div
      ref={ref}
      style={{ position: 'absolute', left: 0, top: 0, width: PAGE_W, height: PAGE_H, background: '#fff' }}
    />
  );
}
